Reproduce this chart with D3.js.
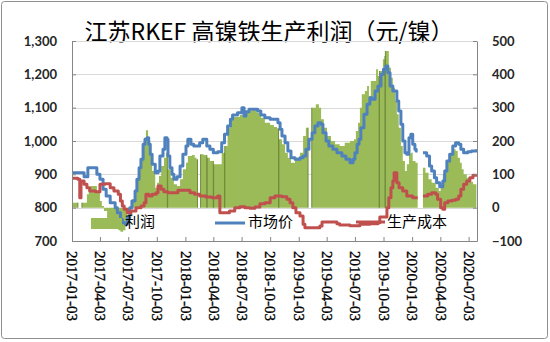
<!DOCTYPE html>
<html><head><meta charset="utf-8">
<script src="https://cdn.jsdelivr.net/npm/d3@7"></script>
<style>
html,body{margin:0;padding:0;background:#fff;}
svg{display:block;}
</style></head>
<body><svg id="chart" width="550" height="342"></svg>
<script>
// Quarterly date labels on the category axis
const tickLabels = ["2017-01-03","2017-04-03","2017-07-03","2017-10-03","2018-01-03","2018-04-03","2018-07-03","2018-10-03","2019-01-03","2019-04-03","2019-07-03","2019-10-03","2020-01-03","2020-04-03","2020-07-03"];
const leftTicks = [700,800,900,1000,1100,1200,1300];
const rightTicks = [-100,0,100,200,300,400,500];
const seriesNames = ["利润","市场价","生产成本"];

// 市场价 (left axis)
const priceSeries = [["2017-01-03",905],["2017-02-11",893],["2017-02-23",920],["2017-03-24",900],["2017-04-03",885],["2017-04-13",855],["2017-04-23",835],["2017-05-06",815],["2017-05-22",800],["2017-05-29",785],["2017-06-08",765],["2017-06-14",755],["2017-06-24",750],["2017-06-30",770],["2017-07-08",800],["2017-07-15",820],["2017-07-25",850],["2017-07-31",885],["2017-08-07",920],["2017-08-13",945],["2017-08-20",990],["2017-08-26",1005],["2017-09-02",1010],["2017-09-07",990],["2017-09-12",960],["2017-09-18",930],["2017-09-28",905],["2017-10-07",910],["2017-10-13",955],["2017-10-23",975],["2017-10-29",1010],["2017-11-05",1005],["2017-11-08",955],["2017-11-14",920],["2017-11-21",900],["2017-11-27",885],["2017-12-07",893],["2017-12-17",925],["2017-12-26",960],["2018-01-05",985],["2018-01-11",1005],["2018-01-21",990],["2018-01-30",985],["2018-02-18",995],["2018-02-28",1005],["2018-03-13",985],["2018-03-23",975],["2018-04-03",965],["2018-04-17",968],["2018-04-30",995],["2018-05-09",1020],["2018-05-19",1045],["2018-05-28",1065],["2018-06-04",1078],["2018-06-20",1085],["2018-07-04",1100],["2018-07-11",1075],["2018-07-17",1088],["2018-07-27",1095],["2018-08-24",1090],["2018-09-03",1078],["2018-09-16",1070],["2018-10-03",1065],["2018-10-28",1055],["2018-11-04",1035],["2018-11-10",1015],["2018-11-20",995],["2018-11-29",970],["2018-12-09",950],["2018-12-22",945],["2019-01-07",950],["2019-01-17",955],["2019-01-26",975],["2019-02-05",1005],["2019-02-15",1025],["2019-02-24",1045],["2019-03-06",1055],["2019-03-16",1050],["2019-03-22",1025],["2019-04-01",1000],["2019-04-10",985],["2019-04-23",975],["2019-05-06",965],["2019-05-22",955],["2019-06-04",945],["2019-06-17",935],["2019-06-27",945],["2019-07-03",965],["2019-07-10",990],["2019-07-16",1005],["2019-07-22",1040],["2019-08-01",1080],["2019-08-11",1110],["2019-08-20",1130],["2019-08-27",1125],["2019-09-06",1150],["2019-09-15",1165],["2019-09-25",1200],["2019-10-03",1215],["2019-10-11",1225],["2019-10-17",1205],["2019-10-24",1165],["2019-11-02",1150],["2019-11-15",1120],["2019-11-21",1090],["2019-11-28",1050],["2019-12-04",1000],["2019-12-11",965],["2019-12-17",960],["2019-12-24",1010],["2019-12-30",1020],["2020-01-05",990],["2020-01-12",975],["2020-01-16",970],["2020-01-21",970],["2020-01-22",null],["2020-02-07",965],["2020-02-19",955],["2020-02-28",925],["2020-03-06",910],["2020-03-15",890],["2020-03-22",875],["2020-04-01",863],["2020-04-11",880],["2020-04-17",910],["2020-04-24",940],["2020-05-03",960],["2020-05-13",985],["2020-05-22",995],["2020-06-01",990],["2020-06-08",975],["2020-06-17",965],["2020-06-30",968],["2020-07-12",970],["2020-07-28",975]];

// 生产成本 (left axis)
const costSeries = [["2017-01-03",888],["2017-01-22",885],["2017-01-28",830],["2017-02-01",880],["2017-02-11",870],["2017-02-20",860],["2017-03-01",850],["2017-03-20",848],["2017-04-03",870],["2017-04-19",872],["2017-05-06",860],["2017-05-18",850],["2017-06-01",840],["2017-06-08",820],["2017-06-14",805],["2017-06-20",795],["2017-06-30",785],["2017-07-12",790],["2017-07-28",800],["2017-08-13",805],["2017-08-23",815],["2017-08-29",840],["2017-09-08",835],["2017-09-18",840],["2017-10-01",845],["2017-10-07",865],["2017-10-17",855],["2017-10-26",848],["2017-11-08",845],["2017-12-10",852],["2018-01-18",845],["2018-02-02",840],["2018-02-18",835],["2018-03-10",832],["2018-03-30",830],["2018-04-17",835],["2018-04-24",785],["2018-05-25",790],["2018-06-11",800],["2018-06-27",803],["2018-07-14",800],["2018-07-30",798],["2018-08-15",802],["2018-08-31",812],["2018-09-16",815],["2018-10-03",830],["2018-10-18",835],["2018-11-10",833],["2018-11-26",825],["2018-12-06",815],["2018-12-15",800],["2018-12-25",785],["2019-01-07",775],["2019-01-17",750],["2019-01-23",740],["2019-03-12",745],["2019-03-19",757],["2019-05-06",752],["2019-05-15",748],["2019-06-17",746],["2019-07-19",750],["2019-08-20",752],["2019-09-15",755],["2019-09-21",772],["2019-10-14",800],["2019-10-20",830],["2019-10-27",860],["2019-11-02",880],["2019-11-06",905],["2019-11-15",875],["2019-11-22",860],["2019-12-04",850],["2019-12-17",835],["2020-01-05",830],["2020-01-21",830],["2020-01-22",null],["2020-02-07",835],["2020-02-22",840],["2020-03-06",845],["2020-03-19",840],["2020-03-25",825],["2020-04-04",800],["2020-04-11",795],["2020-04-17",815],["2020-04-27",820],["2020-05-10",822],["2020-05-22",825],["2020-06-01",835],["2020-06-08",855],["2020-06-17",870],["2020-06-27",880],["2020-07-07",890],["2020-07-17",897],["2020-07-28",900]];

// 利润 (right axis); zeros mark days without a quote
const profitSeries = [["2017-01-03",15],["2017-01-22",0],["2017-02-04",15],["2017-02-20",40],["2017-02-26",55],["2017-03-04",65],["2017-03-24",45],["2017-04-03",20],["2017-04-09",5],["2017-04-16",-10],["2017-04-26",-38],["2017-05-12",-48],["2017-05-25",-60],["2017-06-01",-68],["2017-06-08",-72],["2017-06-17",-68],["2017-06-24",-40],["2017-06-30",-15],["2017-07-08",5],["2017-07-15",25],["2017-07-25",55],["2017-08-03",95],["2017-08-10",130],["2017-08-16",175],["2017-08-23",210],["2017-08-29",232],["2017-09-05",200],["2017-09-12",160],["2017-09-18",110],["2017-09-28",60],["2017-10-04",75],["2017-10-10",95],["2017-10-17",125],["2017-10-26",150],["2017-11-02",165],["2017-11-06",0],["2017-11-07",115],["2017-11-17",90],["2017-11-27",70],["2017-12-07",65],["2017-12-17",85],["2017-12-26",115],["2018-01-05",135],["2018-01-11",155],["2018-01-24",158],["2018-02-02",150],["2018-02-08",145],["2018-02-11",0],["2018-02-21",160],["2018-03-03",158],["2018-03-13",0],["2018-03-14",150],["2018-03-23",140],["2018-04-03",0],["2018-04-04",130],["2018-04-30",165],["2018-05-09",0],["2018-05-10",185],["2018-05-19",240],["2018-05-28",262],["2018-06-07",272],["2018-06-27",278],["2018-07-11",282],["2018-07-20",290],["2018-08-05",292],["2018-08-21",285],["2018-09-03",270],["2018-09-16",255],["2018-10-03",248],["2018-10-15",242],["2018-10-25",238],["2018-10-30",0],["2018-10-31",205],["2018-11-10",190],["2018-11-20",165],["2018-11-29",150],["2018-12-09",135],["2018-12-22",150],["2019-01-07",165],["2019-01-17",215],["2019-01-26",240],["2019-02-02",0],["2019-02-14",300],["2019-02-27",310],["2019-03-09",300],["2019-03-16",265],["2019-03-25",240],["2019-04-04",215],["2019-04-17",200],["2019-04-30",190],["2019-05-15",185],["2019-05-31",195],["2019-06-17",200],["2019-06-30",205],["2019-07-06",230],["2019-07-13",255],["2019-07-19",300],["2019-07-25",340],["2019-08-04",350],["2019-08-11",365],["2019-08-17",335],["2019-08-23",380],["2019-09-02",380],["2019-09-09",415],["2019-09-15",395],["2019-09-19",0],["2019-09-20",410],["2019-10-01",445],["2019-10-07",455],["2019-10-08",0],["2019-10-09",470],["2019-10-20",420],["2019-10-27",390],["2019-11-02",360],["2019-11-09",320],["2019-11-15",280],["2019-11-21",240],["2019-11-28",185],["2019-12-04",140],["2019-12-11",110],["2019-12-17",130],["2019-12-24",160],["2019-12-30",165],["2020-01-05",140],["2020-01-14",135],["2020-01-21",135],["2020-01-22",null],["2020-02-07",120],["2020-02-15",105],["2020-02-25",85],["2020-03-06",75],["2020-03-19",60],["2020-03-29",50],["2020-04-04",60],["2020-04-11",100],["2020-04-17",115],["2020-04-24",140],["2020-05-03",160],["2020-05-13",175],["2020-05-22",170],["2020-05-29",150],["2020-06-05",135],["2020-06-11",115],["2020-06-17",100],["2020-06-27",90],["2020-07-07",78],["2020-07-17",70],["2020-07-28",65]];

const parse = d3.timeParse("%Y-%m-%d");
const toPts = s => s.map(([d, v]) => ({date: parse(d), value: v}));
const price = toPts(priceSeries), cost = toPts(costSeries), profit = toPts(profitSeries);

const svg = d3.select("#chart");
const plot = {left: 72, right: 477, top: 41, bottom: 241};
const colors = {profit: "#9BBB59", profitEdge: "#6F8C3A", price: "#4F81BD", cost: "#C0504D", axis: "#868686", grid: "#D9D9D9"};

const x = d3.scaleTime().domain([parse("2017-01-03"), parse("2020-07-30")]).range([plot.left, plot.right]);
const yL = d3.scaleLinear().domain([700, 1300]).range([plot.bottom, plot.top]);
const yR = d3.scaleLinear().domain([-100, 500]).range([plot.bottom, plot.top]);

// outer frame
svg.append("rect").attr("x", 1.5).attr("y", 1.5).attr("width", 546).attr("height", 337)
  .attr("rx", 3).attr("fill", "#fff").attr("stroke", "#8f8f8f");

// title
svg.append("text").attr("x", 269).attr("y", 40).attr("text-anchor", "middle")
  .style("font-family", "'Noto Sans CJK SC', sans-serif").style("font-size", "23px").attr("fill", "#000")
  .text("江苏RKEF 高镍铁生产利润（元/镍）");

// horizontal gridlines
svg.append("g").selectAll("line").data(leftTicks.slice(1)).join("line")
  .attr("x1", plot.left).attr("x2", plot.right)
  .attr("y1", d => Math.round(yL(d)) + 0.5).attr("y2", d => Math.round(yL(d)) + 0.5)
  .attr("stroke", colors.grid).attr("stroke-width", 1);

// profit area
const defined = d => d.value !== null;
const area = d3.area().defined(defined).curve(d3.curveStepAfter)
  .x(d => x(d.date)).y0(yR(0)).y1(d => yR(d.value));
svg.append("path").datum(profit).attr("d", area).attr("fill", colors.profit);

// dark edges where the profit series drops to zero
const edges = [];
profit.forEach((d, i) => {
  if (d.value === 0 && i > 0 && i < profit.length - 1) {
    edges.push({date: d.date, value: profit[i - 1].value});
    edges.push({date: profit[i + 1].date, value: profit[i + 1].value});
  }
});
svg.append("g").selectAll("line").data(edges).join("line")
  .attr("x1", d => x(d.date)).attr("x2", d => x(d.date))
  .attr("y1", yR(0)).attr("y2", d => yR(d.value))
  .attr("stroke", colors.profitEdge).attr("stroke-width", 1);

// lines
const lineL = d3.line().defined(defined).curve(d3.curveStepAfter)
  .x(d => x(d.date)).y(d => yL(d.value));
svg.append("path").datum(price).attr("d", lineL).attr("fill", "none")
  .attr("stroke", colors.price).attr("stroke-width", 3).attr("stroke-linejoin", "round");
svg.append("path").datum(cost).attr("d", lineL).attr("fill", "none")
  .attr("stroke", colors.cost).attr("stroke-width", 3).attr("stroke-linejoin", "round");

// axes
const fmt = d3.format(",");
const styleAxis = g => {
  g.select(".domain").attr("stroke", colors.axis);
  g.selectAll(".tick line").attr("stroke", colors.axis);
};
svg.append("g").attr("transform", `translate(${plot.left},0)`)
  .call(d3.axisLeft(yL).tickValues(leftTicks).tickFormat(fmt).tickSize(-4).tickSizeOuter(0).tickPadding(15))
  .call(styleAxis)
  .call(g => g.selectAll("text").attr("fill", "#262626")
    .style("font-family", "Lato, 'Liberation Sans', sans-serif").style("font-size", "13px").style("font-weight", "bold"));
svg.append("g").attr("transform", `translate(${plot.right},0)`)
  .call(d3.axisRight(yR).tickValues(rightTicks).tickSize(-4).tickSizeOuter(0).tickPadding(15))
  .call(styleAxis)
  .call(g => g.selectAll("text").attr("fill", "#262626")
    .style("font-family", "Lato, 'Liberation Sans', sans-serif").style("font-size", "13px").style("font-weight", "bold"));
svg.append("g").attr("transform", `translate(0,${plot.bottom})`)
  .call(d3.axisBottom(x).tickValues(tickLabels.map(parse)).tickFormat(d3.timeFormat("%Y-%m-%d"))
    .tickSize(-4).tickSizeOuter(0))
  .call(styleAxis)
  .call(g => g.selectAll("text")
    .attr("transform", "rotate(90)").attr("x", 10).attr("y", 0).attr("dy", "0.35em")
    .style("text-anchor", "start").attr("fill", "#000").attr("stroke", "#000").attr("stroke-width", 0.35)
    .style("font-family", "'Liberation Serif', serif").style("font-size", "15px"));

// legend
const legendFont = g => g.style("font-family", "'Noto Sans CJK SC', sans-serif").style("font-size", "15px").attr("fill", "#000");
const lg = svg.append("g");
lg.append("rect").attr("x", 91).attr("y", 218).attr("width", 31).attr("height", 11).attr("fill", colors.profit);
lg.append("text").attr("x", 125).attr("y", 222).attr("dy", "0.35em").call(legendFont).text(seriesNames[0]);
lg.append("line").attr("x1", 215).attr("x2", 245).attr("y1", 223).attr("y2", 223)
  .attr("stroke", colors.price).attr("stroke-width", 3);
lg.append("text").attr("x", 248).attr("y", 222).attr("dy", "0.35em").call(legendFont).text(seriesNames[1]);
lg.append("line").attr("x1", 356).attr("x2", 385).attr("y1", 222).attr("y2", 222)
  .attr("stroke", colors.cost).attr("stroke-width", 3);
lg.append("text").attr("x", 387).attr("y", 222).attr("dy", "0.35em").call(legendFont).text(seriesNames[2]);
</script>
</body></html>
